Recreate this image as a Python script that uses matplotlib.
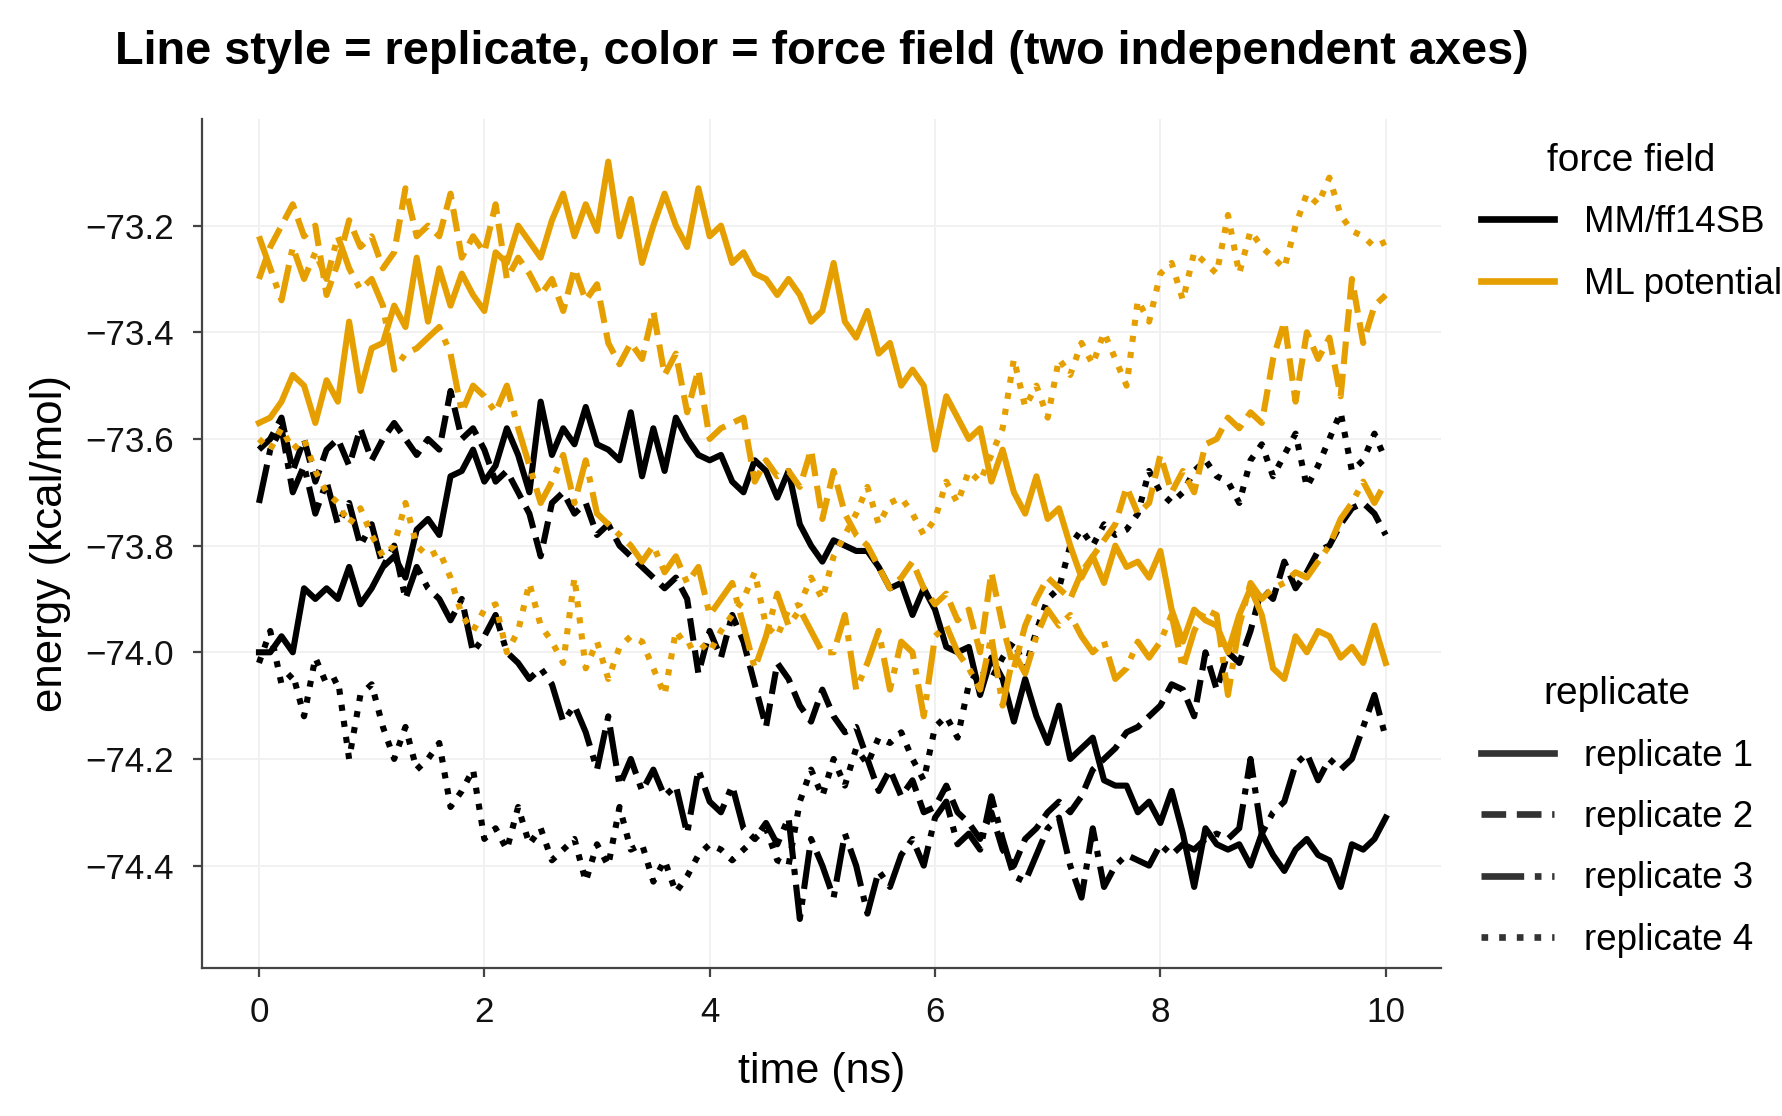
import numpy as np
import matplotlib
matplotlib.use('Agg')
import matplotlib.pyplot as plt
from matplotlib.lines import Line2D

# ---------------- data ----------------
time_ns = np.linspace(0, 10, 101)

mm_rep1 = [-74.0, -74.0, -73.97, -74.0, -73.88, -73.9, -73.88, -73.9, -73.84, -73.91,
           -73.88, -73.84, -73.82, -73.86, -73.77, -73.75, -73.78, -73.67, -73.66, -73.62,
           -73.68, -73.65, -73.58, -73.63, -73.7, -73.53, -73.63, -73.58, -73.61, -73.54,
           -73.61, -73.62, -73.64, -73.55, -73.67, -73.58, -73.66, -73.56, -73.6, -73.63,
           -73.64, -73.63, -73.68, -73.7, -73.64, -73.66, -73.71, -73.66, -73.76, -73.8,
           -73.83, -73.79, -73.8, -73.81, -73.81, -73.84, -73.88, -73.87, -73.93, -73.88,
           -73.92, -73.99, -74.0, -73.99, -74.08, -74.01, -74.05, -74.13, -74.05, -74.12,
           -74.17, -74.1, -74.2, -74.18, -74.16, -74.24, -74.25, -74.25, -74.3, -74.28,
           -74.32, -74.26, -74.34, -74.44, -74.33, -74.36, -74.37, -74.36, -74.4, -74.34,
           -74.38, -74.41, -74.37, -74.35, -74.38, -74.39, -74.44, -74.36, -74.37, -74.35,
           -74.31]

mm_rep2 = [-73.62, -73.6, -73.56, -73.66, -73.6, -73.68, -73.62, -73.6, -73.65, -73.58,
           -73.64, -73.6, -73.57, -73.6, -73.63, -73.6, -73.62, -73.51, -73.6, -73.58,
           -73.62, -73.68, -73.66, -73.7, -73.74, -73.82, -73.72, -73.7, -73.74, -73.72,
           -73.78, -73.76, -73.8, -73.82, -73.84, -73.86, -73.88, -73.86, -73.9, -74.04,
           -73.96, -74.01, -73.93, -73.98, -74.06, -74.14, -74.02, -74.05, -74.1, -74.13,
           -74.07, -74.12, -74.15, -74.14, -74.2, -74.26, -74.22, -74.27, -74.24, -74.3,
           -74.29, -74.25, -74.3, -74.32, -74.35, -74.3, -74.37, -74.4, -74.35, -74.33,
           -74.3, -74.28, -74.3, -74.27, -74.22, -74.2, -74.18, -74.15, -74.14, -74.12,
           -74.1, -74.06, -74.07, -74.12, -74.0, -74.07, -74.0, -74.02, -73.96, -73.88,
           -73.9, -73.83, -73.88, -73.85, -73.81, -73.8, -73.76, -73.73, -73.72, -73.74,
           -73.78]

mm_rep3 = [-73.72, -73.62, -73.58, -73.7, -73.65, -73.74, -73.68, -73.76, -73.72, -73.8,
           -73.76, -73.84, -73.8, -73.9, -73.84, -73.88, -73.9, -73.94, -73.9, -74.0,
           -73.97, -73.93, -74.0, -74.02, -74.05, -74.03, -74.06, -74.13, -74.1, -74.15,
           -74.22, -74.12, -74.25, -74.2, -74.26, -74.22, -74.27, -74.25, -74.34, -74.22,
           -74.28, -74.3, -74.25, -74.33, -74.35, -74.32, -74.36, -74.31, -74.5, -74.35,
           -74.4, -74.46, -74.34, -74.4, -74.49, -74.41, -74.44, -74.38, -74.35, -74.4,
           -74.31, -74.28, -74.36, -74.34, -74.37, -74.27, -74.35, -74.42, -74.43, -74.38,
           -74.33, -74.31, -74.4, -74.46, -74.33, -74.44, -74.4, -74.38, -74.39, -74.4,
           -74.36, -74.38, -74.36, -74.37, -74.35, -74.34, -74.35, -74.33, -74.2, -74.34,
           -74.3, -74.28, -74.21, -74.19, -74.24, -74.2, -74.22, -74.2, -74.14, -74.08,
           -74.16]

mm_rep4 = [-74.02, -73.96, -74.06, -74.04, -74.12, -74.01, -74.06, -74.05, -74.2, -74.08,
           -74.06, -74.14, -74.2, -74.14, -74.22, -74.2, -74.17, -74.29, -74.26, -74.22,
           -74.35, -74.33, -74.37, -74.29, -74.36, -74.33, -74.39, -74.37, -74.35, -74.43,
           -74.36, -74.4, -74.29, -74.37, -74.36, -74.43, -74.39, -74.45, -74.42, -74.38,
           -74.36, -74.37, -74.39, -74.37, -74.35, -74.33, -74.39, -74.4, -74.28, -74.22,
           -74.27, -74.2, -74.25, -74.18, -74.21, -74.16, -74.17, -74.15, -74.2, -74.24,
           -74.14, -74.12, -74.16, -74.06, -74.03, -74.05, -74.01, -73.98, -74.03, -73.96,
           -73.9, -73.88, -73.8, -73.77, -73.8, -73.76, -73.78, -73.77, -73.74, -73.66,
           -73.7, -73.72, -73.7, -73.66, -73.64, -73.67, -73.68, -73.72, -73.64, -73.61,
           -73.67, -73.63, -73.59, -73.69, -73.65, -73.6, -73.55, -73.66, -73.64, -73.59,
           -73.64]

ml_rep1 = [-73.57, -73.56, -73.53, -73.48, -73.5, -73.57, -73.49, -73.53, -73.38, -73.51,
           -73.43, -73.42, -73.35, -73.39, -73.26, -73.38, -73.28, -73.35, -73.29, -73.33,
           -73.36, -73.25, -73.27, -73.2, -73.23, -73.26, -73.19, -73.14, -73.22, -73.16,
           -73.21, -73.08, -73.22, -73.15, -73.27, -73.2, -73.14, -73.2, -73.24, -73.13,
           -73.22, -73.2, -73.27, -73.25, -73.29, -73.3, -73.33, -73.3, -73.33, -73.38,
           -73.36, -73.27, -73.38, -73.41, -73.36, -73.44, -73.42, -73.5, -73.47, -73.5,
           -73.62, -73.52, -73.56, -73.6, -73.58, -73.68, -73.62, -73.7, -73.74, -73.67,
           -73.75, -73.73, -73.8, -73.86, -73.82, -73.87, -73.8, -73.84, -73.83, -73.86,
           -73.81, -73.92, -73.98, -73.92, -73.94, -73.95, -74.0, -73.93, -73.88, -73.93,
           -74.03, -74.05, -73.97, -74.0, -73.96, -73.97, -74.01, -73.99, -74.02, -73.95,
           -74.02]

ml_rep2 = [-73.3, -73.24, -73.2, -73.16, -73.22, -73.2, -73.33, -73.27, -73.19, -73.24,
           -73.22, -73.28, -73.25, -73.13, -73.22, -73.2, -73.22, -73.14, -73.26, -73.22,
           -73.25, -73.16, -73.3, -73.26, -73.29, -73.33, -73.3, -73.36, -73.28, -73.34,
           -73.31, -73.42, -73.46, -73.42, -73.45, -73.36, -73.48, -73.44, -73.55, -73.47,
           -73.6, -73.58, -73.57, -73.56, -73.68, -73.64, -73.67, -73.66, -73.69, -73.62,
           -73.75, -73.66, -73.74, -73.78, -73.8, -73.84, -73.88, -73.86, -73.83, -73.88,
           -73.91, -73.89, -73.94, -73.92, -74.0, -73.85, -73.95, -74.03, -73.95, -73.9,
           -73.86, -73.88, -73.9, -73.85, -73.82, -73.79, -73.76, -73.69, -73.74, -73.72,
           -73.63, -73.7, -73.66, -73.7, -73.61, -73.6, -73.56, -73.58, -73.55, -73.57,
           -73.45, -73.38, -73.53, -73.4, -73.45, -73.41, -73.52, -73.3, -73.42, -73.35,
           -73.33]

ml_rep3 = [-73.22, -73.28, -73.34, -73.24, -73.3, -73.25, -73.3, -73.22, -73.28, -73.32,
           -73.3, -73.35, -73.47, -73.44, -73.43, -73.41, -73.39, -73.44, -73.55, -73.5,
           -73.52, -73.55, -73.5, -73.58, -73.65, -73.72, -73.68, -73.63, -73.72, -73.64,
           -73.74, -73.76, -73.78, -73.8, -73.83, -73.8, -73.85, -73.82, -73.87, -73.84,
           -73.93, -73.9, -73.87, -73.95, -74.03, -73.97, -73.89, -73.95, -73.92, -73.96,
           -74.0, -74.0, -73.93, -74.07, -74.02, -73.96, -74.07, -73.98, -74.0, -74.12,
           -73.97, -73.95, -74.0, -74.03, -74.07, -73.97, -74.1, -74.0, -74.04, -73.97,
           -73.92, -73.95, -73.93, -73.97, -74.0, -73.98, -74.05, -74.03, -73.98, -74.01,
           -73.98, -73.93, -74.03, -73.96, -73.92, -73.93, -74.08, -73.95, -73.87, -73.9,
           -73.88, -73.87, -73.85, -73.86, -73.83, -73.8, -73.75, -73.72, -73.68, -73.72,
           -73.68]

ml_rep4 = [-73.6, -73.62, -73.58, -73.62, -73.6, -73.66, -73.7, -73.72, -73.76, -73.73,
           -73.78, -73.82, -73.8, -73.72, -73.8, -73.82, -73.81, -73.86, -73.93, -73.96,
           -73.92, -73.91, -74.0, -73.96, -73.87, -73.95, -73.98, -74.02, -73.86, -74.03,
           -73.98, -74.05, -73.99, -73.97, -73.98, -74.03, -74.08, -73.96, -73.99, -73.98,
           -74.0, -73.96, -73.93, -73.9, -73.85, -73.95, -73.97, -73.92, -73.91, -73.86,
           -73.9, -73.82, -73.78, -73.74, -73.69, -73.76, -73.72, -73.71, -73.74, -73.78,
           -73.75, -73.68, -73.72, -73.66, -73.68, -73.63, -73.58, -73.45, -73.54, -73.5,
           -73.56, -73.45, -73.48, -73.42, -73.46, -73.4, -73.45, -73.5, -73.34, -73.38,
           -73.29, -73.27, -73.34, -73.25, -73.27, -73.29, -73.18, -73.29, -73.21, -73.24,
           -73.26, -73.28, -73.2, -73.14, -73.16, -73.11, -73.18, -73.21, -73.22, -73.24,
           -73.23]

force_fields = ['MM/ff14SB', 'ML potential']
replicates = ['replicate 1', 'replicate 2', 'replicate 3', 'replicate 4']
x_ticks = [0, 2, 4, 6, 8, 10]
y_ticks = [-74.4, -74.2, -74.0, -73.8, -73.6, -73.4, -73.2]

series = {
    'MM/ff14SB': [mm_rep1, mm_rep2, mm_rep3, mm_rep4],
    'ML potential': [ml_rep1, ml_rep2, ml_rep3, ml_rep4],
}

# ---------------- style ----------------
ff_colors = ['#000000', '#E69F00']
rep_styles = ['-', '--', '-.', ':']

plt.rcParams['font.family'] = ['Liberation Sans', 'DejaVu Sans']

fig = plt.figure(figsize=(8.91, 5.58), dpi=200)
ax = fig.add_axes([0.1134, 0.1326, 0.6952, 0.7608])

for ff, color in zip(force_fields, ff_colors):
    for vals, ls in zip(series[ff], rep_styles):
        ax.plot(time_ns, vals, color=color, linestyle=ls, linewidth=2.2)

ax.set_xlim(-0.505, 10.49)
ax.set_ylim(-74.592, -73.0)
ax.set_xticks(x_ticks)
ax.set_yticks(y_ticks)
ax.set_yticklabels([f'{v:.1f}'.replace('-', '\u2212') for v in y_ticks])

ax.grid(True, color='#f1f1f1', linewidth=0.7)
ax.set_axisbelow(True)
for s in ['top', 'right']:
    ax.spines[s].set_visible(False)
for s in ['left', 'bottom']:
    ax.spines[s].set_color('#444444')
    ax.spines[s].set_linewidth(0.8)
ax.tick_params(direction='out', length=3.2, width=0.8, color='#444444',
               pad=7.0, labelsize=12.6, labelcolor='#111111')

fig.text(0.461, 0.9534, 'Line style = replicate, color = force field (two independent axes)',
         ha='center', va='center', fontsize=16.9, fontweight='bold')
fig.text(0.461, 0.0394, 'time (ns)', ha='center', va='center', fontsize=15.5)
fig.text(0.0286, 0.513, 'energy (kcal/mol)', rotation=90, ha='center', va='center', fontsize=15.8)

h1 = [Line2D([0], [0], color=c, lw=2.4, ls='-') for c in ff_colors]
leg1 = fig.legend(h1, force_fields, title='force field', loc='upper left',
                  bbox_to_anchor=(0.8311, 0.8720), frameon=False, fontsize=13.2,
                  title_fontsize=14, borderpad=0, borderaxespad=0,
                  handlelength=2.0, handletextpad=0.8, labelspacing=0.72)
h2 = [Line2D([0], [0], color='#333333', lw=2.4, ls=ls) for ls in rep_styles]
leg2 = fig.legend(h2, replicates, title='replicate', loc='upper left',
                  bbox_to_anchor=(0.8311, 0.394), frameon=False, fontsize=13.2,
                  title_fontsize=14, borderpad=0, borderaxespad=0,
                  handlelength=2.0, handletextpad=0.8, labelspacing=0.72)

fig.savefig('out.png', dpi=200)
